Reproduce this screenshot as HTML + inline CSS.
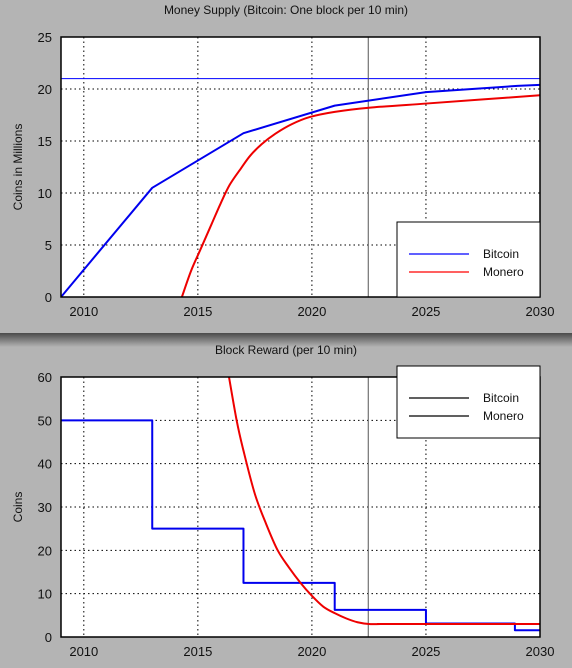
<!DOCTYPE html>
<html><head><meta charset="utf-8"><style>
html,body{margin:0;padding:0;background:#b4b4b4;}
svg{display:block;font-family:"Liberation Sans",sans-serif;}
</style></head><body>
<svg id="c" width="572" height="668">
<defs><linearGradient id="sh" x1="0" y1="0" x2="0" y2="1">
<stop offset="0" stop-color="#4a4a4a"/><stop offset="1" stop-color="#b4b4b4"/></linearGradient></defs>
<rect x="0" y="0" width="572" height="668" fill="#b4b4b4"/>
<rect x="0" y="333" width="572" height="14" fill="url(#sh)"/>
<g id="g"></g>
</svg>
<script>
const years=[2010,2015,2020,2025,2030];
const supplyTicks=[0,5,10,15,20,25];
const rewardTicks=[0,10,20,30,40,50,60];
const btcSupplyX=[2009,2013,2017,2021,2025,2029,2030];
const btcSupplyY=[0,10.5,15.75,18.4,19.7,20.3,20.4];
const xmrSupplyX=[2014.3,2014.7,2015.1,2015.6,2016.0,2016.4,2016.9,2017.3,2017.8,2018.4,2019.1,2019.9,2021.0,2022.5,2025,2027.5,2030];
const xmrSupplyY=[0,2.5,4.5,7.0,9.0,10.8,12.4,13.6,14.7,15.7,16.6,17.3,17.8,18.2,18.6,19.0,19.4];
const btcRewardX=[2009,2013,2017,2021,2025,2028.9,2030];
const btcRewardY=[50,25,12.5,6.25,3.125,1.5625,1.5625];
const xmrRewardX=[2016.3,2016.7,2017,2017.5,2018,2018.5,2019,2019.5,2020,2020.5,2021,2021.5,2022,2022.5,2023,2023.5,2030];
const xmrRewardY=[62,50,43,33,26,20,16,12.5,9.5,7,5.5,4.3,3.4,3,3,3,3];
const maxSupply=21, nowYear=2022.47;

const NS="http://www.w3.org/2000/svg";
const G=document.getElementById('g');
function mk(t,a,txt){const e=document.createElementNS(NS,t);for(const k in a)e.setAttribute(k,a[k]);if(txt!==undefined)e.textContent=txt;G.appendChild(e);return e;}
const L=61,R=540,xmin=2009,xmax=2030;
const X=v=>L+(v-xmin)/(xmax-xmin)*(R-L);

function panel(top,bot,ymax,ticks,title,ylab,pref){
  const Y=v=>bot-v/ymax*(bot-top);
  let e=mk('rect',{x:L,y:top,width:R-L,height:bot-top,fill:'#fff'});
  
  years.forEach(yr=>{
    e=mk('line',{x1:X(yr),x2:X(yr),y1:top,y2:bot,stroke:'#000','stroke-dasharray':'1.5,3','stroke-width':1});
    
    e=mk('text',{x:X(yr),y:bot+19,'text-anchor':'middle','font-size':13,fill:'#111'},yr);
    
  });
  ticks.forEach(t=>{
    e=mk('line',{x1:L,x2:R,y1:Y(t),y2:Y(t),stroke:'#000','stroke-dasharray':'1.5,3','stroke-width':1});
    
    e=mk('text',{x:L-9,y:Y(t)+5,'text-anchor':'end','font-size':13,fill:'#111'},t);
    
  });
  e=mk('text',{x:286,y:top-23,'text-anchor':'middle','font-size':12,fill:'#111'},title);
  
  const cy=(top+bot)/2;
  e=mk('text',{x:22,y:cy,'text-anchor':'middle','font-size':12,fill:'#111',transform:`rotate(-90 22 ${cy})`},ylab);
  
  return Y;
}
function clipRect(id,top,bot){const cp=mk('clipPath',{id:id});const r=document.createElementNS(NS,'rect');r.setAttribute('x',L);r.setAttribute('y',top);r.setAttribute('width',R-L);r.setAttribute('height',bot-top);cp.appendChild(r);}
function line(xs,ys,X,Y,col,w,name,mode,clip){
  const P=xs.map((x,i)=>[X(x),Y(ys[i])]);
  let d='M'+P[0][0]+','+P[0][1];
  for(let i=1;i<P.length;i++){
    if(mode==='step')d+='L'+P[i][0]+','+P[i-1][1]+'L'+P[i][0]+','+P[i][1];
    else if(mode==='smooth'){
      const p0=P[Math.max(0,i-2)],p1=P[i-1],p2=P[i],p3=P[Math.min(P.length-1,i+1)];
      const c1=[p1[0]+(p2[0]-p0[0])/6,p1[1]+(p2[1]-p0[1])/6];
      const c2=[p2[0]-(p3[0]-p1[0])/6,p2[1]-(p3[1]-p1[1])/6];
      d+='C'+c1+' '+c2+' '+p2;
    } else d+='L'+P[i][0]+','+P[i][1];
  }
  const e=mk('path',{d:d,fill:'none',stroke:col,'stroke-width':w,'clip-path':'url(#'+clip+')','stroke-linejoin':'round'});
  
}
function legend(x,y,w,h,entries,pref){
  let e=mk('rect',{x:x,y:y,width:w,height:h,fill:'#fff',stroke:'#000','stroke-width':1});
  
  entries.forEach((en,i)=>{
    const yy=y+32+i*18;
    e=mk('line',{x1:x+12,x2:x+72,y1:yy,y2:yy,stroke:en[1],'stroke-width':1.2});
    
    e=mk('text',{x:x+86,y:yy+4,'font-size':12,fill:'#111'},en[0]);
    
  });
}
const Y1=panel(37,297,25,supplyTicks,'Money Supply (Bitcoin: One block per 10 min)','Coins in Millions','supply');
clipRect('c1',37,297);
let e=mk('line',{x1:L,x2:R,y1:Y1(maxSupply),y2:Y1(maxSupply),stroke:'#00f','stroke-width':1});

e=mk('line',{x1:X(nowYear),x2:X(nowYear),y1:37,y2:297,stroke:'#555','stroke-width':1});

line(btcSupplyX,btcSupplyY,X,Y1,'#0000ee',2,'bitcoin-supply-line','linear','c1');
line(xmrSupplyX,xmrSupplyY,X,Y1,'#ee0000',2,'monero-supply-line','smooth','c1');
e=mk('rect',{x:L,y:37,width:R-L,height:260,fill:'none',stroke:'#000','stroke-width':1.5});
legend(397,222,143,75,[['Bitcoin','#00f'],['Monero','#f00']],'supply');
const Y2=panel(377,637,60,rewardTicks,'Block Reward (per 10 min)','Coins','reward');
clipRect('c2',377,637);
e=mk('line',{x1:X(nowYear),x2:X(nowYear),y1:377,y2:637,stroke:'#555','stroke-width':1});

line(btcRewardX,btcRewardY,X,Y2,'#0000ee',2,'bitcoin-reward-line','step','c2');
line(xmrRewardX,xmrRewardY,X,Y2,'#ee0000',2,'monero-reward-line','smooth','c2');
e=mk('rect',{x:L,y:377,width:R-L,height:260,fill:'none',stroke:'#000','stroke-width':1.5});
legend(397,366,143,72,[['Bitcoin','#000'],['Monero','#000']],'reward');
</script>
</body></html>
